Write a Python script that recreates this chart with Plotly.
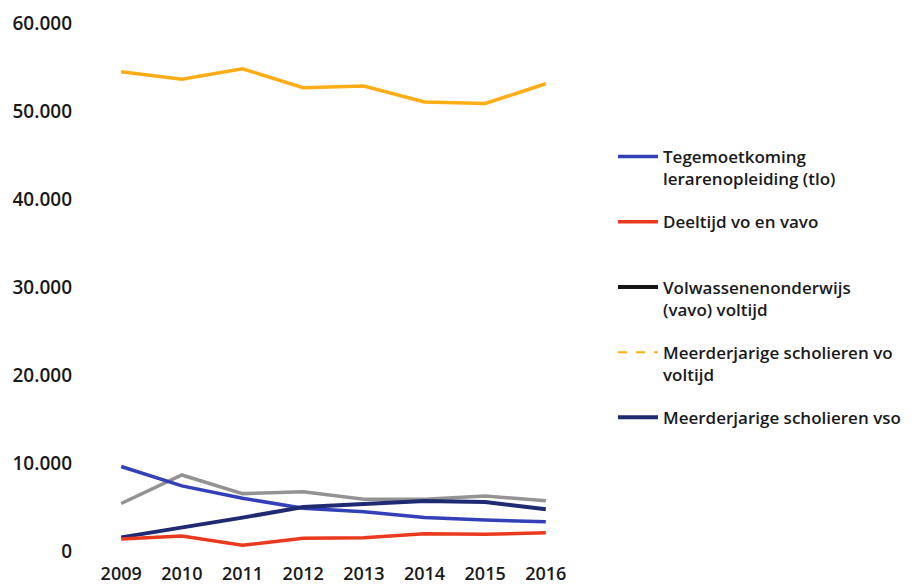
import plotly.graph_objects as go

years = [2009, 2010, 2011, 2012, 2013, 2014, 2015, 2016]
tlo = [9600, 7400, 6000, 4850, 4470, 3800, 3520, 3330]
deeltijd = [1350, 1700, 650, 1440, 1510, 1970, 1890, 2080]
vavo_voltijd = [5400, 8640, 6520, 6740, 5870, 5870, 6250, 5700]
vo_voltijd = [54450, 53600, 54800, 52650, 52840, 51020, 50850, 53100]
vso = [1550, 2650, 3790, 5000, 5380, 5680, 5570, 4740]

y_ticks = [0, 10000, 20000, 30000, 40000, 50000, 60000]
y_tick_text = ["0", "10.000", "20.000", "30.000", "40.000", "50.000", "60.000"]

names = {
    "tlo": "Tegemoetkoming<br>lerarenopleiding (tlo)",
    "deeltijd": "Deeltijd vo en vavo<br>\u00a0",
    "vavo": "Volwassenenonderwijs<br>(vavo) voltijd",
    "vo": "Meerderjarige scholieren vo<br>voltijd",
    "vso": "Meerderjarige scholieren vso<br>\u00a0",
}

C_TLO = "#3340b8"
C_RED = "#ea3a1e"
C_GRAY = "#939393"
C_YEL = "#ffad16"
C_VSO = "#1f2a72"

fig = go.Figure()
fig.add_trace(go.Scatter(x=years, y=vo_voltijd, mode="lines", line=dict(color=C_YEL, width=3.5),
                         showlegend=False))
fig.add_trace(go.Scatter(x=years, y=vavo_voltijd, mode="lines", line=dict(color=C_GRAY, width=3.5),
                         showlegend=False))
fig.add_trace(go.Scatter(x=years, y=tlo, mode="lines", name=names["tlo"], legendrank=1,
                         line=dict(color=C_TLO, width=3.5), legendgroup="a"))
fig.add_trace(go.Scatter(x=years, y=vso, mode="lines", name=names["vso"], legendrank=5,
                         line=dict(color=C_VSO, width=4), legendgroup="e"))
fig.add_trace(go.Scatter(x=years, y=deeltijd, mode="lines", name=names["deeltijd"], legendrank=2,
                         line=dict(color=C_RED, width=3.5), legendgroup="b"))
# legend-only entries
fig.add_trace(go.Scatter(x=[None], y=[None], mode="lines", name=names["vavo"], legendrank=3,
                         line=dict(color="#151515", width=4), legendgroup="c"))
fig.add_trace(go.Scatter(x=[None], y=[None], mode="lines", name=names["vo"], legendrank=4,
                         line=dict(color=C_YEL, width=2, dash="dash"), legendgroup="d"))

fig.update_layout(
    width=918, height=587,
    paper_bgcolor="white", plot_bgcolor="white",
    margin=dict(l=95, r=362, t=15, b=44, autoexpand=False),
    font=dict(family="Open Sans", color="#1a1a1a", weight=600),
    legend=dict(
        xref="container", yref="container",
        x=605 / 918, y=1 - 131 / 587, xanchor="left", yanchor="top",
        font=dict(size=17, family="Open Sans", weight=600, color="#1a1a1a"),
        valign="top", tracegroupgap=18, itemwidth=40, maxheight=500,
        bgcolor="rgba(0,0,0,0)",
    ),
    xaxis=dict(
        range=[2008.7, 2016.3], tickvals=years, ticktext=[str(y) for y in years],
        showgrid=False, zeroline=False, showline=False, ticks="", automargin=False,
        tickfont=dict(size=18, family="Open Sans", weight=600), ticklabelstandoff=10,
    ),
    yaxis=dict(
        range=[0, 60000], tickvals=y_ticks, ticktext=y_tick_text,
        showgrid=False, zeroline=False, showline=False, ticks="", automargin=False,
        tickfont=dict(size=19, family="Open Sans", weight=600), ticklabelstandoff=30,
    ),
)

fig.write_html("out.html")
